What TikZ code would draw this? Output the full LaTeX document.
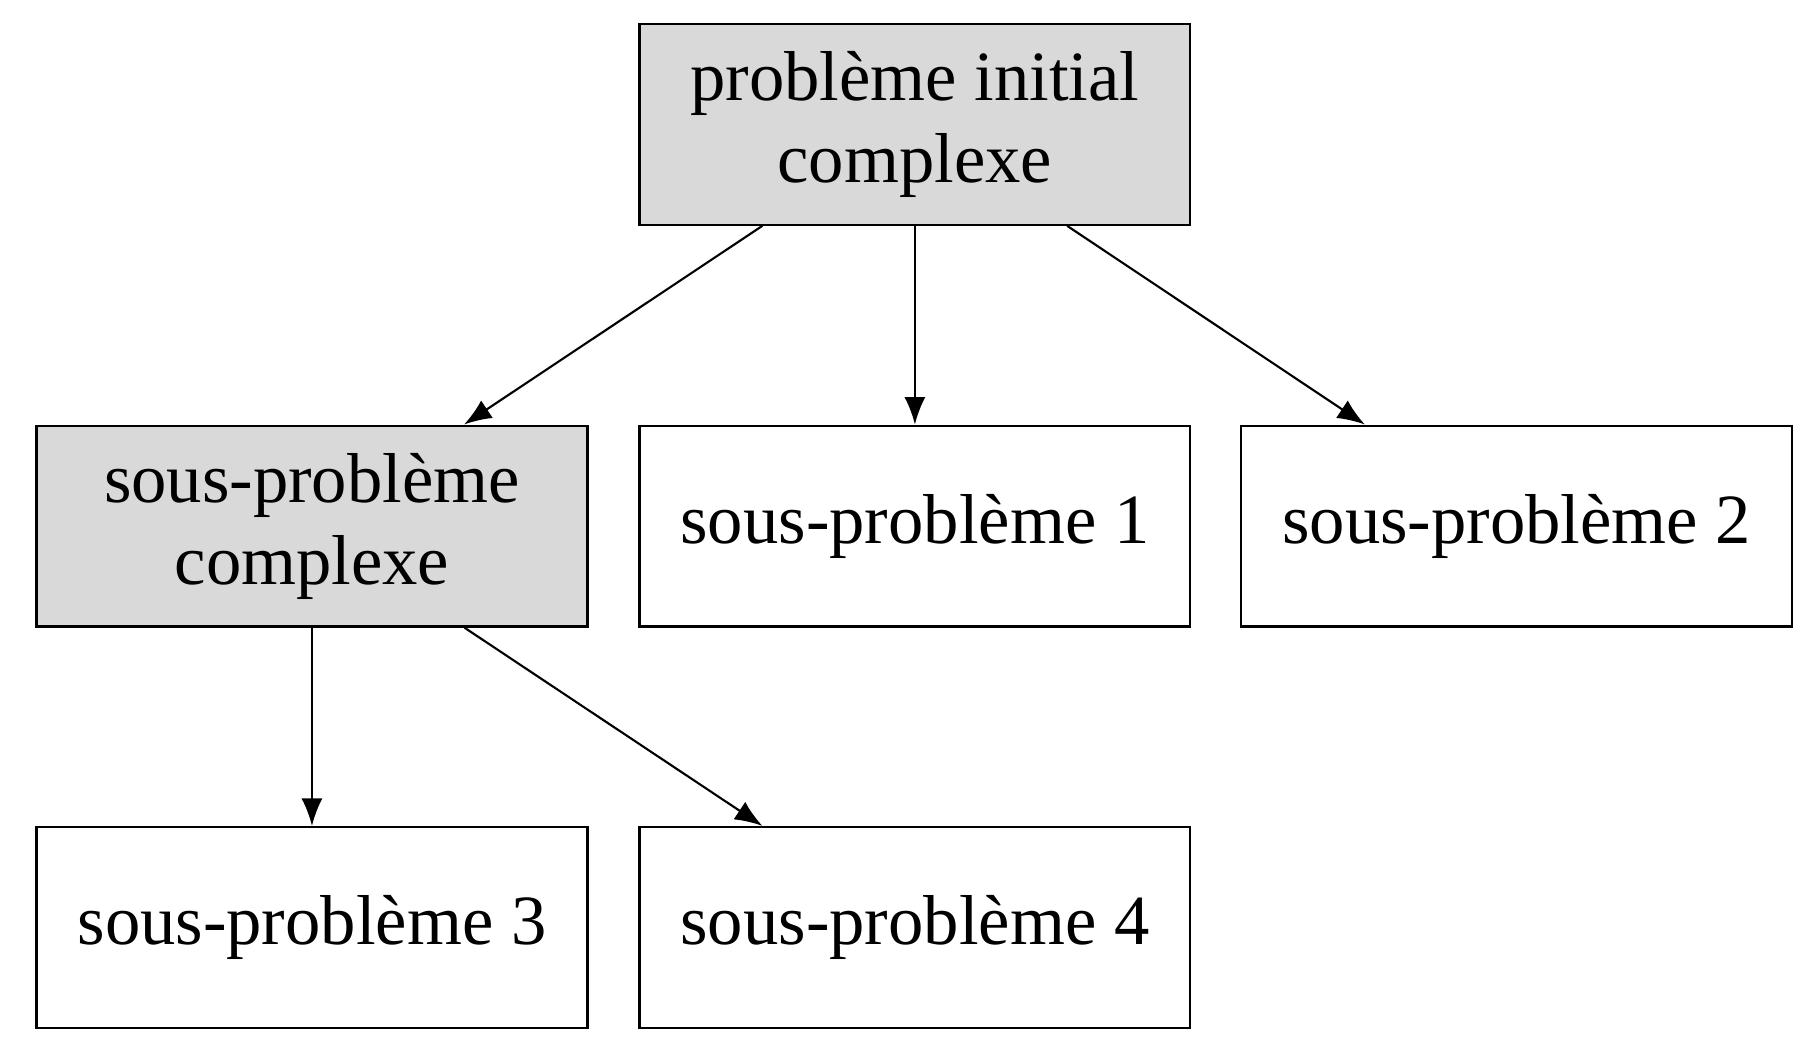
\documentclass[tikz,border=0pt]{standalone}
\usepackage{fontspec}
\setmainfont{Liberation Serif}
\usetikzlibrary{arrows.meta}

\begin{document}
\begin{tikzpicture}[
  box/.style={draw,line width=1.1pt,minimum width=9.18cm,minimum height=3.35cm,
    align=center,inner sep=0pt,font=\fontsize{33.5}{39}\selectfont},
  hardbox/.style={box,fill=black!15},
  link/.style={line width=1pt,-{Latex[length=13pt,width=10pt]}}]
\useasboundingbox (0,0) rectangle (30.17,-17.4);

% Top level - initial problem
\node[hardbox] (init) at (15.25,-2.07) {problème initial\\complexe};

% Second level
\node[hardbox] (sub) at (5.2,-8.77) {sous-problème\\complexe};
\node[box] (sub1) at (15.25,-8.77) {sous-problème 1};
\node[box] (sub2) at (25.28,-8.77) {sous-problème 2};

% Third level
\node[box] (sub3) at (5.2,-15.46) {sous-problème 3};
\node[box] (sub4) at (15.25,-15.46) {sous-problème 4};

\draw[link] (init) -- (sub);
\draw[link] (init) -- (sub1);
\draw[link] (init) -- (sub2);
\draw[link] (sub) -- (sub3);
\draw[link] (sub) -- (sub4);
\end{tikzpicture}
\end{document}
